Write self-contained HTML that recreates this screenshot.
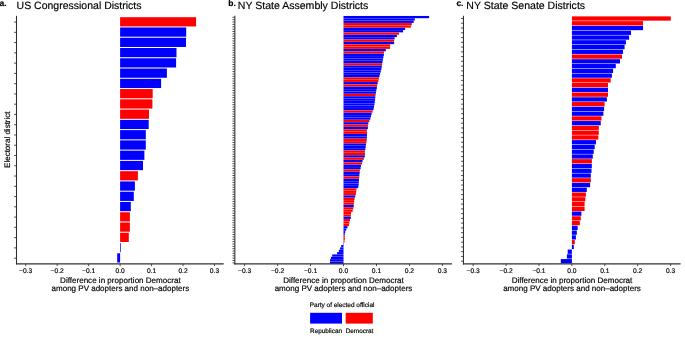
<!DOCTYPE html>
<html><head><meta charset="utf-8"><title>Figure</title>
<style>
html,body{margin:0;padding:0;background:#fff;}
body{width:685px;height:339px;overflow:hidden;font-family:"Liberation Sans",sans-serif;}
svg{display:block;will-change:transform;}
svg text{font-family:"Liberation Sans",sans-serif;fill:#000;stroke:#000;stroke-width:0.18px;text-rendering:geometricPrecision;}
</style></head><body>
<svg width="685" height="339" viewBox="0 0 685 339">
<rect x="0" y="0" width="685" height="339" fill="#ffffff"/>
<rect x="120.10" y="17.20" width="76.00" height="9.24" fill="#ff0000"/>
<rect x="120.10" y="27.46" width="66.10" height="9.24" fill="#0000ff"/>
<rect x="120.10" y="37.73" width="65.90" height="9.24" fill="#0000ff"/>
<rect x="120.10" y="47.99" width="56.40" height="9.24" fill="#0000ff"/>
<rect x="120.10" y="58.26" width="56.00" height="9.24" fill="#0000ff"/>
<rect x="120.10" y="68.52" width="46.80" height="9.24" fill="#0000ff"/>
<rect x="120.10" y="78.79" width="41.00" height="9.24" fill="#0000ff"/>
<rect x="120.10" y="89.05" width="32.60" height="9.24" fill="#ff0000"/>
<rect x="120.10" y="99.32" width="32.30" height="9.24" fill="#ff0000"/>
<rect x="120.10" y="109.58" width="28.90" height="9.24" fill="#ff0000"/>
<rect x="120.10" y="119.84" width="28.60" height="9.24" fill="#0000ff"/>
<rect x="120.10" y="130.11" width="25.70" height="9.24" fill="#0000ff"/>
<rect x="120.10" y="140.37" width="25.70" height="9.24" fill="#0000ff"/>
<rect x="120.10" y="150.64" width="24.30" height="9.24" fill="#0000ff"/>
<rect x="120.10" y="160.90" width="22.90" height="9.24" fill="#0000ff"/>
<rect x="120.10" y="171.17" width="17.80" height="9.24" fill="#ff0000"/>
<rect x="120.10" y="181.43" width="14.80" height="9.24" fill="#0000ff"/>
<rect x="120.10" y="191.70" width="13.70" height="9.24" fill="#0000ff"/>
<rect x="120.10" y="201.96" width="10.70" height="9.24" fill="#0000ff"/>
<rect x="120.10" y="212.22" width="9.80" height="9.24" fill="#ff0000"/>
<rect x="120.10" y="222.49" width="9.80" height="9.24" fill="#ff0000"/>
<rect x="120.10" y="232.75" width="8.70" height="9.24" fill="#ff0000"/>
<rect x="120.10" y="243.02" width="0.70" height="9.24" fill="#0000ff"/>
<rect x="117.20" y="253.28" width="2.90" height="9.24" fill="#0000ff"/>
<line x1="16.50" y1="15.80" x2="16.50" y2="264.39" stroke="#303030" stroke-width="1.07"/>
<line x1="15.96" y1="263.85" x2="223.70" y2="263.85" stroke="#303030" stroke-width="1.07"/>
<line x1="14.10" y1="22.07" x2="16.50" y2="22.07" stroke="#303030" stroke-width="0.85"/>
<line x1="14.10" y1="32.33" x2="16.50" y2="32.33" stroke="#303030" stroke-width="0.85"/>
<line x1="14.10" y1="42.60" x2="16.50" y2="42.60" stroke="#303030" stroke-width="0.85"/>
<line x1="14.10" y1="52.86" x2="16.50" y2="52.86" stroke="#303030" stroke-width="0.85"/>
<line x1="14.10" y1="63.13" x2="16.50" y2="63.13" stroke="#303030" stroke-width="0.85"/>
<line x1="14.10" y1="73.39" x2="16.50" y2="73.39" stroke="#303030" stroke-width="0.85"/>
<line x1="14.10" y1="83.66" x2="16.50" y2="83.66" stroke="#303030" stroke-width="0.85"/>
<line x1="14.10" y1="93.92" x2="16.50" y2="93.92" stroke="#303030" stroke-width="0.85"/>
<line x1="14.10" y1="104.18" x2="16.50" y2="104.18" stroke="#303030" stroke-width="0.85"/>
<line x1="14.10" y1="114.45" x2="16.50" y2="114.45" stroke="#303030" stroke-width="0.85"/>
<line x1="14.10" y1="124.71" x2="16.50" y2="124.71" stroke="#303030" stroke-width="0.85"/>
<line x1="14.10" y1="134.98" x2="16.50" y2="134.98" stroke="#303030" stroke-width="0.85"/>
<line x1="14.10" y1="145.24" x2="16.50" y2="145.24" stroke="#303030" stroke-width="0.85"/>
<line x1="14.10" y1="155.51" x2="16.50" y2="155.51" stroke="#303030" stroke-width="0.85"/>
<line x1="14.10" y1="165.77" x2="16.50" y2="165.77" stroke="#303030" stroke-width="0.85"/>
<line x1="14.10" y1="176.04" x2="16.50" y2="176.04" stroke="#303030" stroke-width="0.85"/>
<line x1="14.10" y1="186.30" x2="16.50" y2="186.30" stroke="#303030" stroke-width="0.85"/>
<line x1="14.10" y1="196.56" x2="16.50" y2="196.56" stroke="#303030" stroke-width="0.85"/>
<line x1="14.10" y1="206.83" x2="16.50" y2="206.83" stroke="#303030" stroke-width="0.85"/>
<line x1="14.10" y1="217.09" x2="16.50" y2="217.09" stroke="#303030" stroke-width="0.85"/>
<line x1="14.10" y1="227.36" x2="16.50" y2="227.36" stroke="#303030" stroke-width="0.85"/>
<line x1="14.10" y1="237.62" x2="16.50" y2="237.62" stroke="#303030" stroke-width="0.85"/>
<line x1="14.10" y1="247.89" x2="16.50" y2="247.89" stroke="#303030" stroke-width="0.85"/>
<line x1="14.10" y1="258.15" x2="16.50" y2="258.15" stroke="#303030" stroke-width="0.85"/>
<line x1="25.69" y1="263.85" x2="25.69" y2="266.10" stroke="#303030" stroke-width="0.85"/>
<line x1="57.16" y1="263.85" x2="57.16" y2="266.10" stroke="#303030" stroke-width="0.85"/>
<line x1="88.63" y1="263.85" x2="88.63" y2="266.10" stroke="#303030" stroke-width="0.85"/>
<line x1="120.10" y1="263.85" x2="120.10" y2="266.10" stroke="#303030" stroke-width="0.85"/>
<line x1="151.57" y1="263.85" x2="151.57" y2="266.10" stroke="#303030" stroke-width="0.85"/>
<line x1="183.04" y1="263.85" x2="183.04" y2="266.10" stroke="#303030" stroke-width="0.85"/>
<line x1="214.51" y1="263.85" x2="214.51" y2="266.10" stroke="#303030" stroke-width="0.85"/>
<rect x="343.50" y="15.96" width="85.60" height="2.23" fill="#0000ff"/>
<rect x="343.50" y="18.32" width="71.30" height="2.23" fill="#0000ff"/>
<rect x="343.50" y="20.68" width="70.20" height="2.23" fill="#0000ff"/>
<rect x="343.50" y="23.04" width="68.35" height="2.23" fill="#ff0000"/>
<rect x="343.50" y="25.41" width="67.40" height="2.23" fill="#ff0000"/>
<rect x="343.50" y="27.77" width="61.70" height="2.23" fill="#0000ff"/>
<rect x="343.50" y="30.13" width="59.60" height="2.23" fill="#0000ff"/>
<rect x="343.50" y="32.49" width="55.50" height="2.23" fill="#ff0000"/>
<rect x="343.50" y="34.85" width="53.40" height="2.23" fill="#0000ff"/>
<rect x="343.50" y="37.21" width="51.10" height="2.23" fill="#0000ff"/>
<rect x="343.50" y="39.57" width="50.60" height="2.23" fill="#ff0000"/>
<rect x="343.50" y="41.93" width="50.60" height="2.23" fill="#0000ff"/>
<rect x="343.50" y="44.30" width="46.70" height="2.23" fill="#ff0000"/>
<rect x="343.50" y="46.66" width="46.50" height="2.23" fill="#ff0000"/>
<rect x="343.50" y="49.02" width="42.30" height="2.23" fill="#0000ff"/>
<rect x="343.50" y="51.38" width="40.50" height="2.23" fill="#ff0000"/>
<rect x="343.50" y="53.74" width="40.34" height="2.23" fill="#0000ff"/>
<rect x="343.50" y="56.10" width="39.89" height="2.23" fill="#0000ff"/>
<rect x="343.50" y="58.46" width="39.45" height="2.23" fill="#0000ff"/>
<rect x="343.50" y="60.82" width="39.00" height="2.23" fill="#0000ff"/>
<rect x="343.50" y="63.19" width="38.63" height="2.23" fill="#ff0000"/>
<rect x="343.50" y="65.55" width="38.28" height="2.23" fill="#0000ff"/>
<rect x="343.50" y="67.91" width="37.87" height="2.23" fill="#0000ff"/>
<rect x="343.50" y="70.27" width="37.30" height="2.23" fill="#0000ff"/>
<rect x="343.50" y="72.63" width="36.63" height="2.23" fill="#0000ff"/>
<rect x="343.50" y="74.99" width="35.96" height="2.23" fill="#0000ff"/>
<rect x="343.50" y="77.35" width="35.48" height="2.23" fill="#ff0000"/>
<rect x="343.50" y="79.71" width="34.85" height="2.23" fill="#ff0000"/>
<rect x="343.50" y="82.08" width="34.18" height="2.23" fill="#0000ff"/>
<rect x="343.50" y="84.44" width="33.64" height="2.23" fill="#ff0000"/>
<rect x="343.50" y="86.80" width="33.33" height="2.23" fill="#0000ff"/>
<rect x="343.50" y="89.16" width="32.88" height="2.23" fill="#0000ff"/>
<rect x="343.50" y="91.52" width="32.44" height="2.23" fill="#0000ff"/>
<rect x="343.50" y="93.88" width="32.04" height="2.23" fill="#ff0000"/>
<rect x="343.50" y="96.24" width="31.83" height="2.23" fill="#0000ff"/>
<rect x="343.50" y="98.60" width="31.57" height="2.23" fill="#0000ff"/>
<rect x="343.50" y="100.96" width="31.26" height="2.23" fill="#0000ff"/>
<rect x="343.50" y="103.33" width="30.92" height="2.23" fill="#0000ff"/>
<rect x="343.50" y="105.69" width="30.50" height="2.23" fill="#0000ff"/>
<rect x="343.50" y="108.05" width="30.03" height="2.23" fill="#0000ff"/>
<rect x="343.50" y="110.41" width="29.09" height="2.23" fill="#ff0000"/>
<rect x="343.50" y="112.77" width="28.10" height="2.23" fill="#0000ff"/>
<rect x="343.50" y="115.13" width="27.47" height="2.23" fill="#0000ff"/>
<rect x="343.50" y="117.49" width="26.84" height="2.23" fill="#0000ff"/>
<rect x="343.50" y="119.85" width="25.91" height="2.23" fill="#ff0000"/>
<rect x="343.50" y="122.22" width="24.87" height="2.23" fill="#0000ff"/>
<rect x="343.50" y="124.58" width="24.54" height="2.23" fill="#ff0000"/>
<rect x="343.50" y="126.94" width="24.38" height="2.23" fill="#0000ff"/>
<rect x="343.50" y="129.30" width="23.49" height="2.23" fill="#ff0000"/>
<rect x="343.50" y="131.66" width="23.47" height="2.23" fill="#ff0000"/>
<rect x="343.50" y="134.02" width="23.44" height="2.23" fill="#0000ff"/>
<rect x="343.50" y="136.38" width="23.41" height="2.23" fill="#0000ff"/>
<rect x="343.50" y="138.74" width="23.28" height="2.23" fill="#ff0000"/>
<rect x="343.50" y="141.11" width="22.96" height="2.23" fill="#ff0000"/>
<rect x="343.50" y="143.47" width="22.51" height="2.23" fill="#0000ff"/>
<rect x="343.50" y="145.83" width="22.16" height="2.23" fill="#0000ff"/>
<rect x="343.50" y="148.19" width="21.80" height="2.23" fill="#0000ff"/>
<rect x="343.50" y="150.55" width="21.43" height="2.23" fill="#ff0000"/>
<rect x="343.50" y="152.91" width="21.42" height="2.23" fill="#ff0000"/>
<rect x="343.50" y="155.27" width="21.28" height="2.23" fill="#0000ff"/>
<rect x="343.50" y="157.63" width="20.35" height="2.23" fill="#ff0000"/>
<rect x="343.50" y="160.00" width="19.07" height="2.23" fill="#0000ff"/>
<rect x="343.50" y="162.36" width="18.41" height="2.23" fill="#ff0000"/>
<rect x="343.50" y="164.72" width="17.45" height="2.23" fill="#0000ff"/>
<rect x="343.50" y="167.08" width="17.12" height="2.23" fill="#0000ff"/>
<rect x="343.50" y="169.44" width="16.39" height="2.23" fill="#ff0000"/>
<rect x="343.50" y="171.80" width="16.12" height="2.23" fill="#0000ff"/>
<rect x="343.50" y="174.16" width="15.89" height="2.23" fill="#0000ff"/>
<rect x="343.50" y="176.52" width="15.69" height="2.23" fill="#ff0000"/>
<rect x="343.50" y="178.89" width="15.45" height="2.23" fill="#0000ff"/>
<rect x="343.50" y="181.25" width="15.33" height="2.23" fill="#0000ff"/>
<rect x="343.50" y="183.61" width="15.17" height="2.23" fill="#0000ff"/>
<rect x="343.50" y="185.97" width="14.76" height="2.23" fill="#0000ff"/>
<rect x="343.50" y="188.33" width="12.94" height="2.23" fill="#ff0000"/>
<rect x="343.50" y="190.69" width="12.65" height="2.23" fill="#ff0000"/>
<rect x="343.50" y="193.05" width="12.35" height="2.23" fill="#ff0000"/>
<rect x="343.50" y="195.41" width="11.69" height="2.23" fill="#0000ff"/>
<rect x="343.50" y="197.77" width="11.04" height="2.23" fill="#ff0000"/>
<rect x="343.50" y="200.14" width="10.69" height="2.23" fill="#ff0000"/>
<rect x="343.50" y="202.50" width="10.33" height="2.23" fill="#ff0000"/>
<rect x="343.50" y="204.86" width="10.20" height="2.23" fill="#0000ff"/>
<rect x="343.50" y="207.22" width="9.83" height="2.23" fill="#ff0000"/>
<rect x="343.50" y="209.58" width="9.18" height="2.23" fill="#ff0000"/>
<rect x="343.50" y="211.94" width="7.59" height="2.23" fill="#ff0000"/>
<rect x="343.50" y="214.30" width="7.36" height="2.23" fill="#ff0000"/>
<rect x="343.50" y="216.66" width="7.30" height="2.23" fill="#0000ff"/>
<rect x="343.50" y="219.03" width="6.46" height="2.23" fill="#ff0000"/>
<rect x="343.50" y="221.39" width="5.95" height="2.23" fill="#ff0000"/>
<rect x="343.50" y="223.75" width="5.44" height="2.23" fill="#ff0000"/>
<rect x="343.50" y="226.11" width="3.99" height="2.23" fill="#0000ff"/>
<rect x="343.50" y="228.47" width="2.75" height="2.23" fill="#0000ff"/>
<rect x="343.50" y="230.83" width="1.72" height="2.23" fill="#0000ff"/>
<rect x="343.50" y="233.19" width="1.32" height="2.23" fill="#0000ff"/>
<rect x="343.50" y="235.55" width="1.30" height="2.23" fill="#ff0000"/>
<rect x="343.50" y="237.92" width="1.30" height="2.23" fill="#ff0000"/>
<rect x="343.50" y="240.28" width="1.04" height="2.23" fill="#ff0000"/>
<rect x="343.50" y="242.64" width="0.45" height="2.23" fill="#0000ff"/>
<rect x="341.20" y="245.00" width="2.30" height="2.23" fill="#0000ff"/>
<rect x="340.10" y="247.36" width="3.40" height="2.23" fill="#0000ff"/>
<rect x="338.90" y="249.72" width="4.60" height="2.23" fill="#0000ff"/>
<rect x="337.10" y="252.08" width="6.40" height="2.23" fill="#0000ff"/>
<rect x="332.20" y="254.44" width="11.30" height="2.23" fill="#0000ff"/>
<rect x="330.90" y="256.81" width="12.60" height="2.23" fill="#0000ff"/>
<rect x="330.00" y="259.17" width="13.50" height="2.23" fill="#0000ff"/>
<rect x="330.00" y="261.53" width="13.50" height="2.23" fill="#0000ff"/>
<line x1="234.85" y1="15.80" x2="234.85" y2="264.39" stroke="#303030" stroke-width="1.07"/>
<line x1="234.31" y1="263.85" x2="451.90" y2="263.85" stroke="#303030" stroke-width="1.07"/>
<line x1="232.45" y1="17.30" x2="234.85" y2="17.30" stroke="#303030" stroke-width="0.85"/>
<line x1="232.45" y1="19.66" x2="234.85" y2="19.66" stroke="#303030" stroke-width="0.85"/>
<line x1="232.45" y1="22.02" x2="234.85" y2="22.02" stroke="#303030" stroke-width="0.85"/>
<line x1="232.45" y1="24.38" x2="234.85" y2="24.38" stroke="#303030" stroke-width="0.85"/>
<line x1="232.45" y1="26.74" x2="234.85" y2="26.74" stroke="#303030" stroke-width="0.85"/>
<line x1="232.45" y1="29.10" x2="234.85" y2="29.10" stroke="#303030" stroke-width="0.85"/>
<line x1="232.45" y1="31.46" x2="234.85" y2="31.46" stroke="#303030" stroke-width="0.85"/>
<line x1="232.45" y1="33.83" x2="234.85" y2="33.83" stroke="#303030" stroke-width="0.85"/>
<line x1="232.45" y1="36.19" x2="234.85" y2="36.19" stroke="#303030" stroke-width="0.85"/>
<line x1="232.45" y1="38.55" x2="234.85" y2="38.55" stroke="#303030" stroke-width="0.85"/>
<line x1="232.45" y1="40.91" x2="234.85" y2="40.91" stroke="#303030" stroke-width="0.85"/>
<line x1="232.45" y1="43.27" x2="234.85" y2="43.27" stroke="#303030" stroke-width="0.85"/>
<line x1="232.45" y1="45.63" x2="234.85" y2="45.63" stroke="#303030" stroke-width="0.85"/>
<line x1="232.45" y1="47.99" x2="234.85" y2="47.99" stroke="#303030" stroke-width="0.85"/>
<line x1="232.45" y1="50.35" x2="234.85" y2="50.35" stroke="#303030" stroke-width="0.85"/>
<line x1="232.45" y1="52.71" x2="234.85" y2="52.71" stroke="#303030" stroke-width="0.85"/>
<line x1="232.45" y1="55.08" x2="234.85" y2="55.08" stroke="#303030" stroke-width="0.85"/>
<line x1="232.45" y1="57.44" x2="234.85" y2="57.44" stroke="#303030" stroke-width="0.85"/>
<line x1="232.45" y1="59.80" x2="234.85" y2="59.80" stroke="#303030" stroke-width="0.85"/>
<line x1="232.45" y1="62.16" x2="234.85" y2="62.16" stroke="#303030" stroke-width="0.85"/>
<line x1="232.45" y1="64.52" x2="234.85" y2="64.52" stroke="#303030" stroke-width="0.85"/>
<line x1="232.45" y1="66.88" x2="234.85" y2="66.88" stroke="#303030" stroke-width="0.85"/>
<line x1="232.45" y1="69.24" x2="234.85" y2="69.24" stroke="#303030" stroke-width="0.85"/>
<line x1="232.45" y1="71.60" x2="234.85" y2="71.60" stroke="#303030" stroke-width="0.85"/>
<line x1="232.45" y1="73.97" x2="234.85" y2="73.97" stroke="#303030" stroke-width="0.85"/>
<line x1="232.45" y1="76.33" x2="234.85" y2="76.33" stroke="#303030" stroke-width="0.85"/>
<line x1="232.45" y1="78.69" x2="234.85" y2="78.69" stroke="#303030" stroke-width="0.85"/>
<line x1="232.45" y1="81.05" x2="234.85" y2="81.05" stroke="#303030" stroke-width="0.85"/>
<line x1="232.45" y1="83.41" x2="234.85" y2="83.41" stroke="#303030" stroke-width="0.85"/>
<line x1="232.45" y1="85.77" x2="234.85" y2="85.77" stroke="#303030" stroke-width="0.85"/>
<line x1="232.45" y1="88.13" x2="234.85" y2="88.13" stroke="#303030" stroke-width="0.85"/>
<line x1="232.45" y1="90.49" x2="234.85" y2="90.49" stroke="#303030" stroke-width="0.85"/>
<line x1="232.45" y1="92.86" x2="234.85" y2="92.86" stroke="#303030" stroke-width="0.85"/>
<line x1="232.45" y1="95.22" x2="234.85" y2="95.22" stroke="#303030" stroke-width="0.85"/>
<line x1="232.45" y1="97.58" x2="234.85" y2="97.58" stroke="#303030" stroke-width="0.85"/>
<line x1="232.45" y1="99.94" x2="234.85" y2="99.94" stroke="#303030" stroke-width="0.85"/>
<line x1="232.45" y1="102.30" x2="234.85" y2="102.30" stroke="#303030" stroke-width="0.85"/>
<line x1="232.45" y1="104.66" x2="234.85" y2="104.66" stroke="#303030" stroke-width="0.85"/>
<line x1="232.45" y1="107.02" x2="234.85" y2="107.02" stroke="#303030" stroke-width="0.85"/>
<line x1="232.45" y1="109.38" x2="234.85" y2="109.38" stroke="#303030" stroke-width="0.85"/>
<line x1="232.45" y1="111.75" x2="234.85" y2="111.75" stroke="#303030" stroke-width="0.85"/>
<line x1="232.45" y1="114.11" x2="234.85" y2="114.11" stroke="#303030" stroke-width="0.85"/>
<line x1="232.45" y1="116.47" x2="234.85" y2="116.47" stroke="#303030" stroke-width="0.85"/>
<line x1="232.45" y1="118.83" x2="234.85" y2="118.83" stroke="#303030" stroke-width="0.85"/>
<line x1="232.45" y1="121.19" x2="234.85" y2="121.19" stroke="#303030" stroke-width="0.85"/>
<line x1="232.45" y1="123.55" x2="234.85" y2="123.55" stroke="#303030" stroke-width="0.85"/>
<line x1="232.45" y1="125.91" x2="234.85" y2="125.91" stroke="#303030" stroke-width="0.85"/>
<line x1="232.45" y1="128.27" x2="234.85" y2="128.27" stroke="#303030" stroke-width="0.85"/>
<line x1="232.45" y1="130.64" x2="234.85" y2="130.64" stroke="#303030" stroke-width="0.85"/>
<line x1="232.45" y1="133.00" x2="234.85" y2="133.00" stroke="#303030" stroke-width="0.85"/>
<line x1="232.45" y1="135.36" x2="234.85" y2="135.36" stroke="#303030" stroke-width="0.85"/>
<line x1="232.45" y1="137.72" x2="234.85" y2="137.72" stroke="#303030" stroke-width="0.85"/>
<line x1="232.45" y1="140.08" x2="234.85" y2="140.08" stroke="#303030" stroke-width="0.85"/>
<line x1="232.45" y1="142.44" x2="234.85" y2="142.44" stroke="#303030" stroke-width="0.85"/>
<line x1="232.45" y1="144.80" x2="234.85" y2="144.80" stroke="#303030" stroke-width="0.85"/>
<line x1="232.45" y1="147.16" x2="234.85" y2="147.16" stroke="#303030" stroke-width="0.85"/>
<line x1="232.45" y1="149.52" x2="234.85" y2="149.52" stroke="#303030" stroke-width="0.85"/>
<line x1="232.45" y1="151.89" x2="234.85" y2="151.89" stroke="#303030" stroke-width="0.85"/>
<line x1="232.45" y1="154.25" x2="234.85" y2="154.25" stroke="#303030" stroke-width="0.85"/>
<line x1="232.45" y1="156.61" x2="234.85" y2="156.61" stroke="#303030" stroke-width="0.85"/>
<line x1="232.45" y1="158.97" x2="234.85" y2="158.97" stroke="#303030" stroke-width="0.85"/>
<line x1="232.45" y1="161.33" x2="234.85" y2="161.33" stroke="#303030" stroke-width="0.85"/>
<line x1="232.45" y1="163.69" x2="234.85" y2="163.69" stroke="#303030" stroke-width="0.85"/>
<line x1="232.45" y1="166.05" x2="234.85" y2="166.05" stroke="#303030" stroke-width="0.85"/>
<line x1="232.45" y1="168.41" x2="234.85" y2="168.41" stroke="#303030" stroke-width="0.85"/>
<line x1="232.45" y1="170.78" x2="234.85" y2="170.78" stroke="#303030" stroke-width="0.85"/>
<line x1="232.45" y1="173.14" x2="234.85" y2="173.14" stroke="#303030" stroke-width="0.85"/>
<line x1="232.45" y1="175.50" x2="234.85" y2="175.50" stroke="#303030" stroke-width="0.85"/>
<line x1="232.45" y1="177.86" x2="234.85" y2="177.86" stroke="#303030" stroke-width="0.85"/>
<line x1="232.45" y1="180.22" x2="234.85" y2="180.22" stroke="#303030" stroke-width="0.85"/>
<line x1="232.45" y1="182.58" x2="234.85" y2="182.58" stroke="#303030" stroke-width="0.85"/>
<line x1="232.45" y1="184.94" x2="234.85" y2="184.94" stroke="#303030" stroke-width="0.85"/>
<line x1="232.45" y1="187.30" x2="234.85" y2="187.30" stroke="#303030" stroke-width="0.85"/>
<line x1="232.45" y1="189.67" x2="234.85" y2="189.67" stroke="#303030" stroke-width="0.85"/>
<line x1="232.45" y1="192.03" x2="234.85" y2="192.03" stroke="#303030" stroke-width="0.85"/>
<line x1="232.45" y1="194.39" x2="234.85" y2="194.39" stroke="#303030" stroke-width="0.85"/>
<line x1="232.45" y1="196.75" x2="234.85" y2="196.75" stroke="#303030" stroke-width="0.85"/>
<line x1="232.45" y1="199.11" x2="234.85" y2="199.11" stroke="#303030" stroke-width="0.85"/>
<line x1="232.45" y1="201.47" x2="234.85" y2="201.47" stroke="#303030" stroke-width="0.85"/>
<line x1="232.45" y1="203.83" x2="234.85" y2="203.83" stroke="#303030" stroke-width="0.85"/>
<line x1="232.45" y1="206.19" x2="234.85" y2="206.19" stroke="#303030" stroke-width="0.85"/>
<line x1="232.45" y1="208.56" x2="234.85" y2="208.56" stroke="#303030" stroke-width="0.85"/>
<line x1="232.45" y1="210.92" x2="234.85" y2="210.92" stroke="#303030" stroke-width="0.85"/>
<line x1="232.45" y1="213.28" x2="234.85" y2="213.28" stroke="#303030" stroke-width="0.85"/>
<line x1="232.45" y1="215.64" x2="234.85" y2="215.64" stroke="#303030" stroke-width="0.85"/>
<line x1="232.45" y1="218.00" x2="234.85" y2="218.00" stroke="#303030" stroke-width="0.85"/>
<line x1="232.45" y1="220.36" x2="234.85" y2="220.36" stroke="#303030" stroke-width="0.85"/>
<line x1="232.45" y1="222.72" x2="234.85" y2="222.72" stroke="#303030" stroke-width="0.85"/>
<line x1="232.45" y1="225.08" x2="234.85" y2="225.08" stroke="#303030" stroke-width="0.85"/>
<line x1="232.45" y1="227.45" x2="234.85" y2="227.45" stroke="#303030" stroke-width="0.85"/>
<line x1="232.45" y1="229.81" x2="234.85" y2="229.81" stroke="#303030" stroke-width="0.85"/>
<line x1="232.45" y1="232.17" x2="234.85" y2="232.17" stroke="#303030" stroke-width="0.85"/>
<line x1="232.45" y1="234.53" x2="234.85" y2="234.53" stroke="#303030" stroke-width="0.85"/>
<line x1="232.45" y1="236.89" x2="234.85" y2="236.89" stroke="#303030" stroke-width="0.85"/>
<line x1="232.45" y1="239.25" x2="234.85" y2="239.25" stroke="#303030" stroke-width="0.85"/>
<line x1="232.45" y1="241.61" x2="234.85" y2="241.61" stroke="#303030" stroke-width="0.85"/>
<line x1="232.45" y1="243.97" x2="234.85" y2="243.97" stroke="#303030" stroke-width="0.85"/>
<line x1="232.45" y1="246.33" x2="234.85" y2="246.33" stroke="#303030" stroke-width="0.85"/>
<line x1="232.45" y1="248.70" x2="234.85" y2="248.70" stroke="#303030" stroke-width="0.85"/>
<line x1="232.45" y1="251.06" x2="234.85" y2="251.06" stroke="#303030" stroke-width="0.85"/>
<line x1="232.45" y1="253.42" x2="234.85" y2="253.42" stroke="#303030" stroke-width="0.85"/>
<line x1="232.45" y1="255.78" x2="234.85" y2="255.78" stroke="#303030" stroke-width="0.85"/>
<line x1="232.45" y1="258.14" x2="234.85" y2="258.14" stroke="#303030" stroke-width="0.85"/>
<line x1="232.45" y1="260.50" x2="234.85" y2="260.50" stroke="#303030" stroke-width="0.85"/>
<line x1="232.45" y1="262.86" x2="234.85" y2="262.86" stroke="#303030" stroke-width="0.85"/>
<line x1="244.59" y1="263.85" x2="244.59" y2="266.10" stroke="#303030" stroke-width="0.85"/>
<line x1="277.56" y1="263.85" x2="277.56" y2="266.10" stroke="#303030" stroke-width="0.85"/>
<line x1="310.53" y1="263.85" x2="310.53" y2="266.10" stroke="#303030" stroke-width="0.85"/>
<line x1="343.50" y1="263.85" x2="343.50" y2="266.10" stroke="#303030" stroke-width="0.85"/>
<line x1="376.47" y1="263.85" x2="376.47" y2="266.10" stroke="#303030" stroke-width="0.85"/>
<line x1="409.44" y1="263.85" x2="409.44" y2="266.10" stroke="#303030" stroke-width="0.85"/>
<line x1="442.41" y1="263.85" x2="442.41" y2="266.10" stroke="#303030" stroke-width="0.85"/>
<rect x="571.90" y="16.37" width="98.90" height="4.28" fill="#ff0000"/>
<rect x="571.90" y="21.13" width="71.15" height="4.28" fill="#ff0000"/>
<rect x="571.90" y="25.89" width="71.15" height="4.28" fill="#0000ff"/>
<rect x="571.90" y="30.65" width="59.10" height="4.28" fill="#0000ff"/>
<rect x="571.90" y="35.41" width="57.20" height="4.28" fill="#0000ff"/>
<rect x="571.90" y="40.17" width="54.00" height="4.28" fill="#0000ff"/>
<rect x="571.90" y="44.93" width="52.70" height="4.28" fill="#0000ff"/>
<rect x="571.90" y="49.68" width="51.15" height="4.28" fill="#0000ff"/>
<rect x="571.90" y="54.44" width="50.10" height="4.28" fill="#ff0000"/>
<rect x="571.90" y="59.20" width="48.10" height="4.28" fill="#0000ff"/>
<rect x="571.90" y="63.96" width="43.90" height="4.28" fill="#0000ff"/>
<rect x="571.90" y="68.72" width="41.20" height="4.28" fill="#0000ff"/>
<rect x="571.90" y="73.48" width="40.00" height="4.28" fill="#0000ff"/>
<rect x="571.90" y="78.24" width="38.80" height="4.28" fill="#ff0000"/>
<rect x="571.90" y="82.99" width="36.10" height="4.28" fill="#ff0000"/>
<rect x="571.90" y="87.75" width="36.10" height="4.28" fill="#0000ff"/>
<rect x="571.90" y="92.51" width="36.10" height="4.28" fill="#ff0000"/>
<rect x="571.90" y="97.27" width="35.00" height="4.28" fill="#0000ff"/>
<rect x="571.90" y="102.03" width="32.70" height="4.28" fill="#ff0000"/>
<rect x="571.90" y="106.79" width="32.20" height="4.28" fill="#0000ff"/>
<rect x="571.90" y="111.55" width="31.50" height="4.28" fill="#0000ff"/>
<rect x="571.90" y="116.30" width="29.60" height="4.28" fill="#ff0000"/>
<rect x="571.90" y="121.06" width="28.85" height="4.28" fill="#0000ff"/>
<rect x="571.90" y="125.82" width="26.90" height="4.28" fill="#ff0000"/>
<rect x="571.90" y="130.58" width="26.90" height="4.28" fill="#ff0000"/>
<rect x="571.90" y="135.34" width="26.40" height="4.28" fill="#ff0000"/>
<rect x="571.90" y="140.10" width="24.10" height="4.28" fill="#0000ff"/>
<rect x="571.90" y="144.86" width="22.80" height="4.28" fill="#0000ff"/>
<rect x="571.90" y="149.62" width="21.80" height="4.28" fill="#0000ff"/>
<rect x="571.90" y="154.37" width="20.90" height="4.28" fill="#0000ff"/>
<rect x="571.90" y="159.13" width="20.00" height="4.28" fill="#ff0000"/>
<rect x="571.90" y="163.89" width="19.90" height="4.28" fill="#0000ff"/>
<rect x="571.90" y="168.65" width="19.60" height="4.28" fill="#0000ff"/>
<rect x="571.90" y="173.41" width="18.90" height="4.28" fill="#0000ff"/>
<rect x="571.90" y="178.17" width="18.90" height="4.28" fill="#ff0000"/>
<rect x="571.90" y="182.93" width="18.20" height="4.28" fill="#0000ff"/>
<rect x="571.90" y="187.68" width="14.90" height="4.28" fill="#0000ff"/>
<rect x="571.90" y="192.44" width="14.00" height="4.28" fill="#ff0000"/>
<rect x="571.90" y="197.20" width="13.45" height="4.28" fill="#ff0000"/>
<rect x="571.90" y="201.96" width="12.70" height="4.28" fill="#ff0000"/>
<rect x="571.90" y="206.72" width="12.70" height="4.28" fill="#ff0000"/>
<rect x="571.90" y="211.48" width="9.50" height="4.28" fill="#0000ff"/>
<rect x="571.90" y="216.24" width="8.90" height="4.28" fill="#ff0000"/>
<rect x="571.90" y="220.99" width="7.90" height="4.28" fill="#ff0000"/>
<rect x="571.90" y="225.75" width="5.75" height="4.28" fill="#0000ff"/>
<rect x="571.90" y="230.51" width="4.90" height="4.28" fill="#0000ff"/>
<rect x="571.90" y="235.27" width="4.00" height="4.28" fill="#0000ff"/>
<rect x="571.90" y="240.03" width="2.90" height="4.28" fill="#ff0000"/>
<rect x="571.90" y="244.79" width="1.90" height="4.28" fill="#0000ff"/>
<rect x="567.70" y="249.55" width="4.20" height="4.28" fill="#0000ff"/>
<rect x="566.90" y="254.30" width="5.00" height="4.28" fill="#0000ff"/>
<rect x="560.80" y="259.06" width="11.10" height="4.28" fill="#0000ff"/>
<line x1="463.45" y1="15.80" x2="463.45" y2="264.39" stroke="#303030" stroke-width="1.07"/>
<line x1="462.91" y1="263.85" x2="680.60" y2="263.85" stroke="#303030" stroke-width="1.07"/>
<line x1="461.05" y1="18.52" x2="463.45" y2="18.52" stroke="#303030" stroke-width="0.85"/>
<line x1="461.05" y1="23.27" x2="463.45" y2="23.27" stroke="#303030" stroke-width="0.85"/>
<line x1="461.05" y1="28.03" x2="463.45" y2="28.03" stroke="#303030" stroke-width="0.85"/>
<line x1="461.05" y1="32.79" x2="463.45" y2="32.79" stroke="#303030" stroke-width="0.85"/>
<line x1="461.05" y1="37.55" x2="463.45" y2="37.55" stroke="#303030" stroke-width="0.85"/>
<line x1="461.05" y1="42.31" x2="463.45" y2="42.31" stroke="#303030" stroke-width="0.85"/>
<line x1="461.05" y1="47.07" x2="463.45" y2="47.07" stroke="#303030" stroke-width="0.85"/>
<line x1="461.05" y1="51.83" x2="463.45" y2="51.83" stroke="#303030" stroke-width="0.85"/>
<line x1="461.05" y1="56.58" x2="463.45" y2="56.58" stroke="#303030" stroke-width="0.85"/>
<line x1="461.05" y1="61.34" x2="463.45" y2="61.34" stroke="#303030" stroke-width="0.85"/>
<line x1="461.05" y1="66.10" x2="463.45" y2="66.10" stroke="#303030" stroke-width="0.85"/>
<line x1="461.05" y1="70.86" x2="463.45" y2="70.86" stroke="#303030" stroke-width="0.85"/>
<line x1="461.05" y1="75.62" x2="463.45" y2="75.62" stroke="#303030" stroke-width="0.85"/>
<line x1="461.05" y1="80.38" x2="463.45" y2="80.38" stroke="#303030" stroke-width="0.85"/>
<line x1="461.05" y1="85.14" x2="463.45" y2="85.14" stroke="#303030" stroke-width="0.85"/>
<line x1="461.05" y1="89.89" x2="463.45" y2="89.89" stroke="#303030" stroke-width="0.85"/>
<line x1="461.05" y1="94.65" x2="463.45" y2="94.65" stroke="#303030" stroke-width="0.85"/>
<line x1="461.05" y1="99.41" x2="463.45" y2="99.41" stroke="#303030" stroke-width="0.85"/>
<line x1="461.05" y1="104.17" x2="463.45" y2="104.17" stroke="#303030" stroke-width="0.85"/>
<line x1="461.05" y1="108.93" x2="463.45" y2="108.93" stroke="#303030" stroke-width="0.85"/>
<line x1="461.05" y1="113.69" x2="463.45" y2="113.69" stroke="#303030" stroke-width="0.85"/>
<line x1="461.05" y1="118.45" x2="463.45" y2="118.45" stroke="#303030" stroke-width="0.85"/>
<line x1="461.05" y1="123.20" x2="463.45" y2="123.20" stroke="#303030" stroke-width="0.85"/>
<line x1="461.05" y1="127.96" x2="463.45" y2="127.96" stroke="#303030" stroke-width="0.85"/>
<line x1="461.05" y1="132.72" x2="463.45" y2="132.72" stroke="#303030" stroke-width="0.85"/>
<line x1="461.05" y1="137.48" x2="463.45" y2="137.48" stroke="#303030" stroke-width="0.85"/>
<line x1="461.05" y1="142.24" x2="463.45" y2="142.24" stroke="#303030" stroke-width="0.85"/>
<line x1="461.05" y1="147.00" x2="463.45" y2="147.00" stroke="#303030" stroke-width="0.85"/>
<line x1="461.05" y1="151.76" x2="463.45" y2="151.76" stroke="#303030" stroke-width="0.85"/>
<line x1="461.05" y1="156.52" x2="463.45" y2="156.52" stroke="#303030" stroke-width="0.85"/>
<line x1="461.05" y1="161.27" x2="463.45" y2="161.27" stroke="#303030" stroke-width="0.85"/>
<line x1="461.05" y1="166.03" x2="463.45" y2="166.03" stroke="#303030" stroke-width="0.85"/>
<line x1="461.05" y1="170.79" x2="463.45" y2="170.79" stroke="#303030" stroke-width="0.85"/>
<line x1="461.05" y1="175.55" x2="463.45" y2="175.55" stroke="#303030" stroke-width="0.85"/>
<line x1="461.05" y1="180.31" x2="463.45" y2="180.31" stroke="#303030" stroke-width="0.85"/>
<line x1="461.05" y1="185.07" x2="463.45" y2="185.07" stroke="#303030" stroke-width="0.85"/>
<line x1="461.05" y1="189.83" x2="463.45" y2="189.83" stroke="#303030" stroke-width="0.85"/>
<line x1="461.05" y1="194.58" x2="463.45" y2="194.58" stroke="#303030" stroke-width="0.85"/>
<line x1="461.05" y1="199.34" x2="463.45" y2="199.34" stroke="#303030" stroke-width="0.85"/>
<line x1="461.05" y1="204.10" x2="463.45" y2="204.10" stroke="#303030" stroke-width="0.85"/>
<line x1="461.05" y1="208.86" x2="463.45" y2="208.86" stroke="#303030" stroke-width="0.85"/>
<line x1="461.05" y1="213.62" x2="463.45" y2="213.62" stroke="#303030" stroke-width="0.85"/>
<line x1="461.05" y1="218.38" x2="463.45" y2="218.38" stroke="#303030" stroke-width="0.85"/>
<line x1="461.05" y1="223.14" x2="463.45" y2="223.14" stroke="#303030" stroke-width="0.85"/>
<line x1="461.05" y1="227.89" x2="463.45" y2="227.89" stroke="#303030" stroke-width="0.85"/>
<line x1="461.05" y1="232.65" x2="463.45" y2="232.65" stroke="#303030" stroke-width="0.85"/>
<line x1="461.05" y1="237.41" x2="463.45" y2="237.41" stroke="#303030" stroke-width="0.85"/>
<line x1="461.05" y1="242.17" x2="463.45" y2="242.17" stroke="#303030" stroke-width="0.85"/>
<line x1="461.05" y1="246.93" x2="463.45" y2="246.93" stroke="#303030" stroke-width="0.85"/>
<line x1="461.05" y1="251.69" x2="463.45" y2="251.69" stroke="#303030" stroke-width="0.85"/>
<line x1="461.05" y1="256.45" x2="463.45" y2="256.45" stroke="#303030" stroke-width="0.85"/>
<line x1="461.05" y1="261.20" x2="463.45" y2="261.20" stroke="#303030" stroke-width="0.85"/>
<line x1="473.20" y1="263.85" x2="473.20" y2="266.10" stroke="#303030" stroke-width="0.85"/>
<line x1="506.10" y1="263.85" x2="506.10" y2="266.10" stroke="#303030" stroke-width="0.85"/>
<line x1="539.00" y1="263.85" x2="539.00" y2="266.10" stroke="#303030" stroke-width="0.85"/>
<line x1="571.90" y1="263.85" x2="571.90" y2="266.10" stroke="#303030" stroke-width="0.85"/>
<line x1="604.80" y1="263.85" x2="604.80" y2="266.10" stroke="#303030" stroke-width="0.85"/>
<line x1="637.70" y1="263.85" x2="637.70" y2="266.10" stroke="#303030" stroke-width="0.85"/>
<line x1="670.60" y1="263.85" x2="670.60" y2="266.10" stroke="#303030" stroke-width="0.85"/>
<rect x="310.10" y="312.80" width="31.90" height="10.80" fill="#0000ff"/>
<rect x="345.70" y="312.80" width="27.10" height="10.80" fill="#ff0000"/>
<g style="opacity:0.999">
<text x="25.69" y="273.00" font-size="6.7" text-anchor="middle" font-weight="normal" >−0.3</text>
<text x="57.16" y="273.00" font-size="6.7" text-anchor="middle" font-weight="normal" >−0.2</text>
<text x="88.63" y="273.00" font-size="6.7" text-anchor="middle" font-weight="normal" >−0.1</text>
<text x="120.10" y="273.00" font-size="6.7" text-anchor="middle" font-weight="normal" >0.0</text>
<text x="151.57" y="273.00" font-size="6.7" text-anchor="middle" font-weight="normal" >0.1</text>
<text x="183.04" y="273.00" font-size="6.7" text-anchor="middle" font-weight="normal" >0.2</text>
<text x="214.51" y="273.00" font-size="6.7" text-anchor="middle" font-weight="normal" >0.3</text>
<text x="120.40" y="282.70" font-size="8.06" text-anchor="middle" font-weight="normal" >Difference in proportion Democrat</text>
<text x="120.40" y="291.40" font-size="8.03" text-anchor="middle" font-weight="normal" >among PV adopters and non–adopters</text>
<text x="244.59" y="273.00" font-size="6.7" text-anchor="middle" font-weight="normal" >−0.3</text>
<text x="277.56" y="273.00" font-size="6.7" text-anchor="middle" font-weight="normal" >−0.2</text>
<text x="310.53" y="273.00" font-size="6.7" text-anchor="middle" font-weight="normal" >−0.1</text>
<text x="343.50" y="273.00" font-size="6.7" text-anchor="middle" font-weight="normal" >0.0</text>
<text x="376.47" y="273.00" font-size="6.7" text-anchor="middle" font-weight="normal" >0.1</text>
<text x="409.44" y="273.00" font-size="6.7" text-anchor="middle" font-weight="normal" >0.2</text>
<text x="442.41" y="273.00" font-size="6.7" text-anchor="middle" font-weight="normal" >0.3</text>
<text x="343.50" y="282.70" font-size="8.06" text-anchor="middle" font-weight="normal" >Difference in proportion Democrat</text>
<text x="343.50" y="291.40" font-size="8.03" text-anchor="middle" font-weight="normal" >among PV adopters and non–adopters</text>
<text x="473.20" y="273.00" font-size="6.7" text-anchor="middle" font-weight="normal" >−0.3</text>
<text x="506.10" y="273.00" font-size="6.7" text-anchor="middle" font-weight="normal" >−0.2</text>
<text x="539.00" y="273.00" font-size="6.7" text-anchor="middle" font-weight="normal" >−0.1</text>
<text x="571.90" y="273.00" font-size="6.7" text-anchor="middle" font-weight="normal" >0.0</text>
<text x="604.80" y="273.00" font-size="6.7" text-anchor="middle" font-weight="normal" >0.1</text>
<text x="637.70" y="273.00" font-size="6.7" text-anchor="middle" font-weight="normal" >0.2</text>
<text x="670.60" y="273.00" font-size="6.7" text-anchor="middle" font-weight="normal" >0.3</text>
<text x="572.00" y="282.70" font-size="8.06" text-anchor="middle" font-weight="normal" >Difference in proportion Democrat</text>
<text x="572.00" y="291.40" font-size="8.03" text-anchor="middle" font-weight="normal" >among PV adopters and non–adopters</text>
<text x="-0.40" y="5.80" font-size="8.5" text-anchor="start" font-weight="bold" >a.</text>
<text x="16.60" y="9.30" font-size="10.5" text-anchor="start" font-weight="normal" >US Congressional Districts</text>
<text x="228.20" y="5.80" font-size="8.5" text-anchor="start" font-weight="bold" >b.</text>
<text x="237.80" y="9.30" font-size="10.55" text-anchor="start" font-weight="normal" >NY State Assembly Districts</text>
<text x="456.40" y="5.80" font-size="8.5" text-anchor="start" font-weight="bold" >c.</text>
<text x="466.30" y="9.30" font-size="10.55" text-anchor="start" font-weight="normal" >NY State Senate Districts</text>
<text transform="translate(10.1,139.7) rotate(-90)" font-size="8" text-anchor="middle">Electoral district</text>
<text x="309.80" y="306.60" font-size="6.45" text-anchor="start" font-weight="normal" >Party of elected official</text>
<text x="310.10" y="332.90" font-size="6.4" text-anchor="start" font-weight="normal" >Republican</text>
<text x="345.70" y="332.90" font-size="6.4" text-anchor="start" font-weight="normal" >Democrat</text>
</g>
</svg>
</body></html>
